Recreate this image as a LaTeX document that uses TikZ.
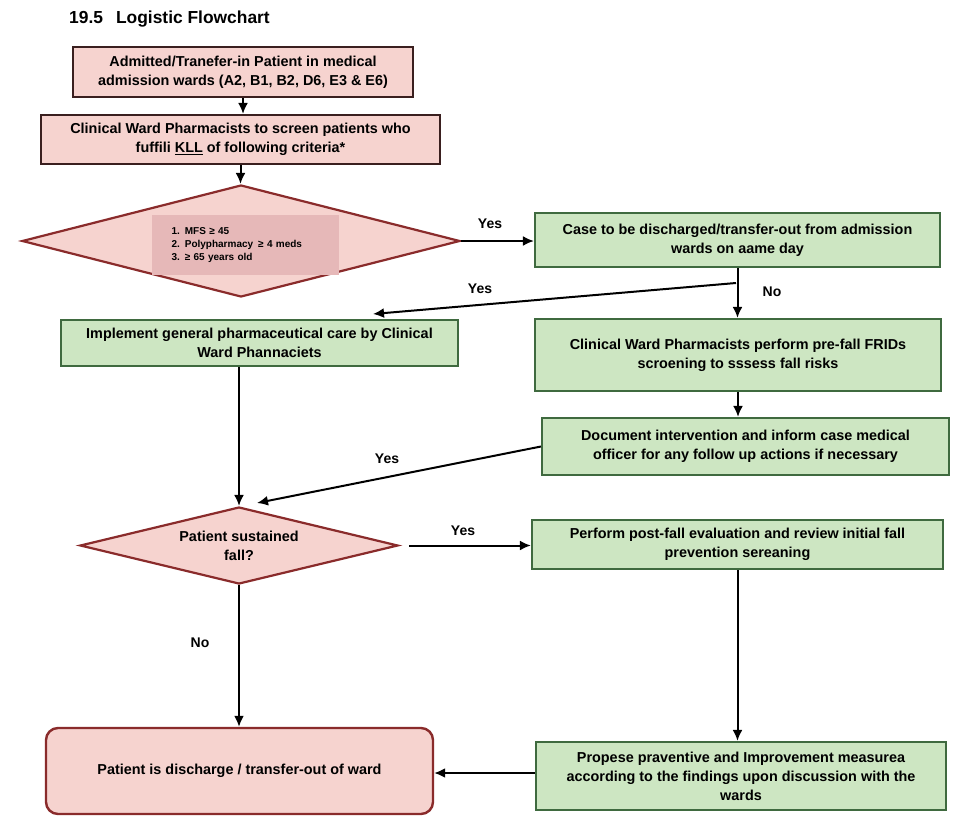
\documentclass[tikz,border=0pt]{standalone}
\usepackage{fontspec}
\setmainfont{Liberation Sans}
\usetikzlibrary{shapes.geometric,arrows.meta}
\definecolor{pinkfill}{HTML}{F6D3CF}
\definecolor{pinkdraw}{HTML}{3A1F1F}
\definecolor{reddraw}{HTML}{8A2B2B}
\definecolor{innerpink}{HTML}{E6B8B8}
\definecolor{greenfill}{HTML}{CDE6C2}
\definecolor{greendraw}{HTML}{3F6A3F}
\tikzset{
  every node/.style={font=\bfseries\fontsize{14.4}{19}\selectfont, inner sep=0pt, align=center},
  pinkbox/.style={rectangle, draw=pinkdraw, fill=pinkfill, line width=2.2pt},
  greenbox/.style={rectangle, draw=greendraw, fill=greenfill, line width=2.2pt},
  decision/.style={diamond, draw=reddraw, fill=pinkfill, line width=2.2pt},
  endbox/.style={rectangle, rounded corners=12pt, draw=reddraw, fill=pinkfill, line width=2.4pt},
  arr/.style={line width=2pt, -{Latex[length=11pt,width=10pt]}},
  lbl/.style={font=\bfseries\fontsize{14}{16}\selectfont}
}
\begin{document}
\begin{tikzpicture}[x=1pt,y=-1pt]
\useasboundingbox[fill=white] (0,0) rectangle (957,816);

\node[anchor=west, font=\bfseries\fontsize{17.4}{20}\selectfont] (title) at (69,19) {19.5\hspace{13pt}Logistic Flowchart};

\node[pinkbox, minimum width=340, minimum height=50] (b1) at (243,72)
  {Admitted/Tranefer-in Patient in medical\\admission wards (A2, B1, B2, D6, E3 \& E6)};
\node[pinkbox, minimum width=399, minimum height=49] (b2) at (240.5,139.5)
  {Clinical Ward Pharmacists to screen patients who\\fuffili \underline{KLL} of following criteria*};

\node[decision, minimum width=438, minimum height=112] (d1) at (241,241) {};
\node[rectangle, fill=innerpink, minimum width=187, minimum height=60, align=left,
      font=\bfseries\fontsize{10}{13}\selectfont, text width=147] (crit) at (245,245)
  {1. MFS ≥ 45\\2. Polypharmacy \,≥ 4 meds\\3. ≥ 65 years old};

\node[greenbox, minimum width=405, minimum height=54] (b3) at (737.5,240)
  {Case to be discharged/transfer-out from admission\\wards on aame day};
\node[greenbox, minimum width=406, minimum height=72] (b4) at (738,355)
  {Clinical Ward Pharmacists perform pre-fall FRIDs\\scroening to sssess fall risks};
\node[greenbox, minimum width=397, minimum height=46] (b5) at (259.5,343)
  {Implement general pharmaceutical care by Clinical\\Ward Phannaciets};
\node[greenbox, minimum width=407, minimum height=57] (b6) at (745.5,446.5)
  {Document intervention and inform case medical\\officer for any follow up actions if necessary};

\node[decision, minimum width=318, minimum height=77] (d2) at (239,545.5) {};
\node (d2t) at (239,546) {Patient sustained\\fall?};
\node[greenbox, minimum width=411, minimum height=49] (b7) at (737.5,544.5)
  {Perform post-fall evaluation and review initial fall\\prevention sereaning};
\node[greenbox, minimum width=410, minimum height=68] (b8) at (741,776)
  {Propese praventive and Improvement measurea\\according to the findings upon discussion with the\\wards};
\node[endbox, minimum width=387, minimum height=86] (end) at (239.5,771)
  {Patient is discharge / transfer-out of ward};

\coordinate (yesA) at (736,283);
\coordinate (yesB) at (373,314);
\coordinate (yesC) at (257,503);

\draw[arr] (b1.south) -- (b1.south |- b2.north);
\draw[arr] (b2.south) -- (b2.south |- d1.north);
\draw[arr] (d1.east) -- (d1.east -| b3.west);
\node[lbl] (ly1) at (490,224) {Yes};
\draw[arr] (b3.south) -- (b3.south |- b4.north);
\node[lbl] (ln1) at (772,292) {No};
\draw[arr] (yesA) -- (yesB);
\node[lbl] (ly2) at (480,289) {Yes};
\draw[arr] (b4.south) -- (b4.south |- b6.north);
\draw[arr] (b6.west) -- (yesC);
\node[lbl] (ly3) at (387,459) {Yes};
\draw[arr] (d2.north |- b5.south) -- (d2.north);
\draw[arr, shorten <=10pt] (d2.east) -- (d2.east -| b7.west);
\node[lbl] (ly4) at (463,531) {Yes};
\draw[arr] (d2.south) -- (d2.south |- end.north);
\node[lbl] (ln2) at (200,643) {No};
\draw[arr] (b7.south) -- (b7.south |- b8.north);
\draw[arr] (b8.west |- 0,773) -- (end.east |- 0,773);
\end{tikzpicture}
\end{document}
